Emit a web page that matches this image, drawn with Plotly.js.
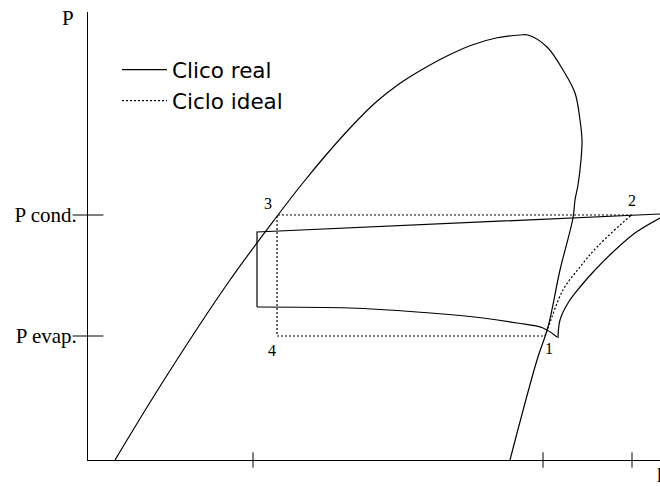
<!DOCTYPE html>
<html>
<head>
<meta charset="utf-8">
<script src="https://cdn.plot.ly/plotly-3.0.1.min.js"></script>
<style>
  html, body { margin: 0; padding: 0; background: #fff; }
  #chart { width: 660px; height: 487px; }
</style>
</head>
<body>
<div id="chart"></div>
<script>
// Pressure–enthalpy diagram of a vapour-compression cycle (schematic units)

// Saturation dome: liquid line up to the critical point, then vapour line down
const domeH = [27, 76, 142, 190, 214, 238, 263, 287, 311, 335, 359, 384, 408, 432, 440,
               459, 475, 487, 492, 494, 493, 490, 487, 485, 472, 460, 449, 422];
const domeP = [0, 80, 180, 245, 276, 305, 333, 357, 376, 391, 404, 415, 422, 425, 425,
               413, 390, 367, 340, 320, 300, 275, 260, 242, 190, 133, 100, 0];

// Real cycle: condensation line + expansion, evaporation, compression
const realTopH = [572, 169, 169];
const realTopP = [246, 228, 153];
const realEvapH = [169, 262, 329, 395, 429, 455, 469];
const realEvapP = [153, 152, 148, 142, 137, 132, 123];
const realCompH = [470, 472, 480, 492, 507, 525, 547, 572];
const realCompP = [122, 140, 157, 173, 190, 208, 227, 242];

// Ideal cycle: 2 -> 3 -> 4 -> 1, then isentropic compression 1 -> 2
const idealLoopH = [544, 189, 189, 457];
const idealLoopP = [245, 245, 124, 124];
const idealCompH = [457, 460, 475, 492, 509, 540, 544];
const idealCompP = [124, 132, 170, 193, 213, 242, 245];

// State points
const stateLabels = ['1', '2', '3', '4'];
const stateH = [461, 544, 180, 184];
const stateP = [112, 260, 257, 110];

// Axis ticks
const hTicks = [165, 455, 544];
const pTicks = [245, 124];
const pTickText = ['P cond.', 'P evap.'];

const ink = '#000';
const serif = 'Liberation Serif, Times New Roman, serif';
const sans = 'DejaVu Sans, Verdana, sans-serif';

const lineSolid = { color: ink, width: 1.2 };
const lineDotted = { color: ink, width: 1.2, dash: '2px,2px' };

const traces = [
  { x: domeH, y: domeP, mode: 'lines', line: { color: ink, width: 1.2, shape: 'spline', smoothing: 1 },
    showlegend: false, hoverinfo: 'skip' },
  { x: realTopH, y: realTopP, mode: 'lines', line: lineSolid, name: 'Clico real',
    legendgroup: 'real', showlegend: true, hoverinfo: 'skip' },
  { x: realEvapH, y: realEvapP, mode: 'lines', line: Object.assign({ shape: 'spline' }, lineSolid),
    legendgroup: 'real', showlegend: false, hoverinfo: 'skip' },
  { x: realCompH, y: realCompP, mode: 'lines', line: Object.assign({ shape: 'spline' }, lineSolid),
    legendgroup: 'real', showlegend: false, hoverinfo: 'skip' },
  { x: idealLoopH, y: idealLoopP, mode: 'lines', line: lineDotted, name: 'Ciclo ideal',
    legendgroup: 'ideal', showlegend: true, hoverinfo: 'skip' },
  { x: idealCompH, y: idealCompP, mode: 'lines', line: Object.assign({ shape: 'spline' }, lineDotted),
    legendgroup: 'ideal', showlegend: false, hoverinfo: 'skip' },
  // tick marks that cross the axes
  { x: hTicks, y: hTicks.map(() => 0), mode: 'markers', cliponaxis: false,
    marker: { symbol: 'line-ns', size: 11, line: { color: ink, width: 1 } },
    showlegend: false, hoverinfo: 'skip' },
  { x: pTicks.map(() => 0), y: pTicks, mode: 'markers', cliponaxis: false,
    marker: { symbol: 'line-ew', size: 22, line: { color: ink, width: 1 } },
    showlegend: false, hoverinfo: 'skip' }
];

const annotations = stateLabels.map((t, i) => ({
  x: stateH[i], y: stateP[i], xref: 'x', yref: 'y', text: t, showarrow: false,
  font: { family: serif, size: 16, color: ink }, xanchor: 'center', yanchor: 'middle'
}));
// axis names, placed just outside the axes
annotations.push(
  { x: -20 / 572, y: 442 / 448, xref: 'paper', yref: 'paper', text: 'P', showarrow: false,
    font: { family: serif, size: 21, color: ink }, xanchor: 'center', yanchor: 'middle' },
  { x: 567 / 572, y: -15 / 448, xref: 'paper', yref: 'paper', text: 'h', showarrow: false,
    font: { family: serif, size: 21, color: ink }, xanchor: 'left', yanchor: 'middle' }
);

const layout = {
  width: 660, height: 487,
  margin: { l: 88, r: 0, t: 12, b: 27, pad: 0 },
  paper_bgcolor: '#fff', plot_bgcolor: '#fff',
  xaxis: {
    range: [0, 572], showline: true, linecolor: ink, linewidth: 1,
    showgrid: false, zeroline: false, ticks: '',
    tickmode: 'array', tickvals: hTicks, showticklabels: false, fixedrange: true
  },
  yaxis: {
    range: [0, 448], showline: true, linecolor: ink, linewidth: 1,
    showgrid: false, zeroline: false, ticks: '',
    tickmode: 'array', tickvals: pTicks, ticktext: pTickText, ticklabelstandoff: 6,
    tickfont: { family: serif, size: 21, color: ink }, fixedrange: true
  },
  showlegend: true,
  legend: {
    x: 0.0507, y: 0.917, xanchor: 'left', yanchor: 'top',
    bgcolor: 'rgba(0,0,0,0)', borderwidth: 0, itemwidth: 45,
    traceorder: 'grouped', tracegroupgap: 0,
    font: { family: sans, size: 21.5, color: ink }
  },
  annotations: annotations
};

Plotly.newPlot('chart', traces, layout, { staticPlot: true, displayModeBar: false });
</script>
</body>
</html>
